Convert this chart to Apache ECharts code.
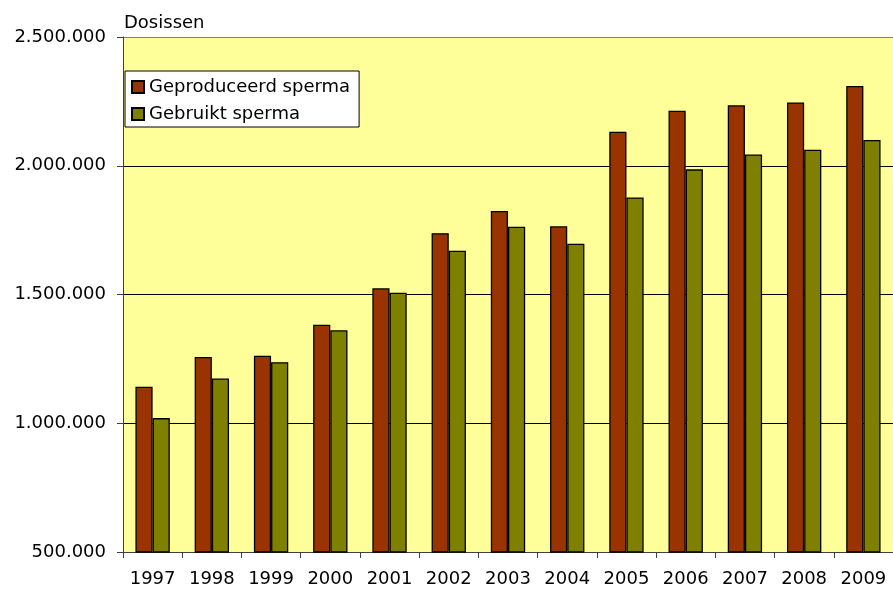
<!DOCTYPE html>
<html>
<head>
<meta charset="utf-8">
<script src="https://cdn.jsdelivr.net/npm/echarts@6/dist/echarts.min.js"></script>
<style>
html, body { margin: 0; padding: 0; background: #fff; }
#chart { width: 893px; height: 590px; }
</style>
</head>
<body>
<div id="chart"></div>
<script>
var years = ['1997', '1998', '1999', '2000', '2001', '2002', '2003', '2004', '2005', '2006', '2007', '2008', '2009'];
var geproduceerd = [1142000, 1257000, 1262000, 1383000, 1524000, 1738000, 1824000, 1765000, 2132000, 2214000, 2235000, 2246000, 2310000];
var gebruikt = [1020000, 1174000, 1237000, 1361000, 1507000, 1670000, 1763000, 1697000, 1877000, 1986000, 2044000, 2062000, 2100000];

var chart = echarts.init(document.getElementById('chart'));
var font = 'DejaVu Sans';

function dots(v) {
    return String(v).replace(/\B(?=(\d{3})+(?!\d))/g, '.');
}

var option = {
    animation: false,
    title: {
        text: 'Dosissen',
        left: 124,
        top: 14,
        padding: 0,
        textStyle: { fontFamily: font, fontSize: 18, fontWeight: 'normal', color: '#000' }
    },
    legend: {
        orient: 'vertical',
        left: 125,
        top: 71,
        padding: [7, 9, 4, 6],
        itemGap: 9,
        itemWidth: 12,
        itemHeight: 12,
        icon: 'rect',
        backgroundColor: '#fff',
        borderColor: '#000',
        borderWidth: 1,
        borderRadius: 0,
        textStyle: { fontFamily: font, fontSize: 18, color: '#000' },
        data: ['Geproduceerd sperma', 'Gebruikt sperma']
    },
    grid: {
        left: 123,
        top: 37,
        bottom: 38,
        width: 774,
        show: true,
        backgroundColor: '#FFFF99',
        borderWidth: 0
    },
    xAxis: {
        type: 'category',
        data: years,
        axisLine: { lineStyle: { color: '#404040', width: 1 } },
        axisTick: { show: true, length: 6, lineStyle: { color: '#404040' } },
        axisLabel: { fontFamily: font, fontSize: 18, color: '#000', margin: 18, interval: 0 }
    },
    yAxis: {
        type: 'value',
        min: 500000,
        max: 2500000,
        interval: 500000,
        axisLine: { show: true, lineStyle: { color: '#404040', width: 1 } },
        axisTick: { show: true, length: 6, lineStyle: { color: '#404040' } },
        axisLabel: {
            fontFamily: font, fontSize: 18, color: '#000', margin: 17,
            formatter: function (v) { return dots(v); }
        },
        splitLine: { show: true, lineStyle: { color: ['#000', '#000', '#000', '#000', '#808080'], width: 1 } }
    },
    series: [
        {
            name: 'Geproduceerd sperma',
            type: 'bar',
            barGap: '0%',
            barCategoryGap: '42%',
            itemStyle: { color: '#993300', borderColor: '#000', borderWidth: 1.3 },
            data: geproduceerd
        },
        {
            name: 'Gebruikt sperma',
            type: 'bar',
            itemStyle: { color: '#808000', borderColor: '#000', borderWidth: 1.3 },
            data: gebruikt
        }
    ]
};

chart.setOption(option);
</script>
</body>
</html>
